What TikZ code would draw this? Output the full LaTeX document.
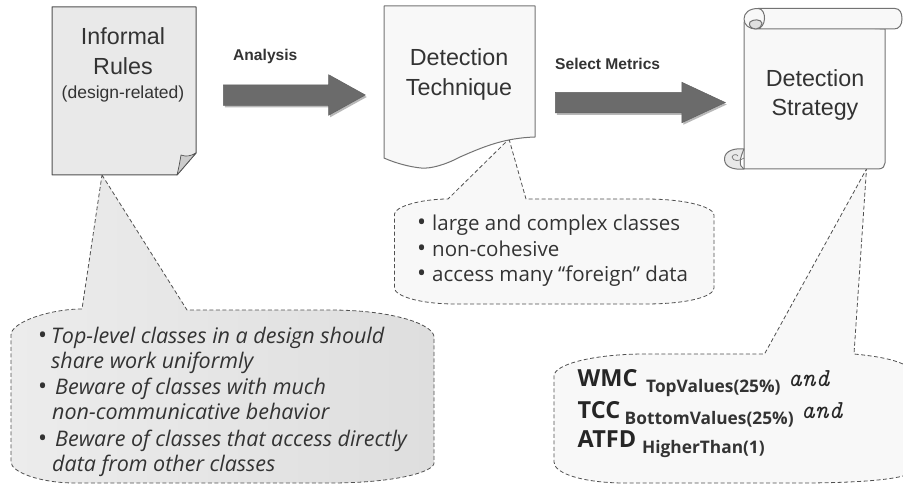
\documentclass[tikz,border=0pt]{standalone}
\usepackage{fontspec}
\setmainfont{Liberation Sans}
\newfontfamily\callfont{Open Sans}
\usetikzlibrary{shapes.arrows,shadows}
\definecolor{ink}{HTML}{333333}
\definecolor{edge}{HTML}{505050}
\definecolor{pale}{HTML}{F8F8F8}
\definecolor{mid}{HTML}{E9E9E9}
\definecolor{midleft}{HTML}{ECECEC}
\definecolor{midright}{HTML}{DEDEDE}
\tikzset{
  x=1pt,y=-1pt,
  shapeline/.style={draw=edge,line width=1pt,line join=round},
  softline/.style={draw=black!55,line width=1pt,line join=round},
  calloutline/.style={draw=edge,line width=.8pt,dash pattern=on 4pt off 2.5pt,line join=round},
  bigtext/.style={font=\fontsize{23.3}{23}\selectfont,text=ink,anchor=base,inner sep=0pt},
  smalltext/.style={font=\fontsize{17.5}{18}\selectfont,text=ink,anchor=base,inner sep=0pt},
  steplabel/.style={font=\bfseries\fontsize{15.6}{16}\selectfont,text=ink,anchor=base west,inner sep=0pt},
  noteit/.style={font=\callfont\itshape\fontsize{21.5}{22}\selectfont,text=ink,anchor=base west,inner sep=0pt},
  notert/.style={font=\callfont\fontsize{20.5}{21}\selectfont,text=ink,anchor=base west,inner sep=0pt},
  bull/.style={font=\callfont\fontsize{24}{24}\selectfont,text=ink,anchor=base west,inner sep=0pt},
  metric/.style={font=\callfont\bfseries\fontsize{23.5}{24}\selectfont,text=black!85,anchor=base west,inner sep=0pt},
  metricsub/.style={font=\callfont\bfseries\fontsize{17.3}{18}\selectfont,text=black!80,anchor=base west,inner sep=0pt},
  andword/.style={font=\ttfamily\itshape\addfontfeature{FakeBold=5}\fontsize{26}{26}\selectfont,text=black!85,anchor=base west,inner sep=0pt},
  blockarrow/.style={shape=single arrow,fill=black!58,draw=black!62,line width=.5pt,inner sep=0pt,
    drop shadow={shadow xshift=1.5pt,shadow yshift=-2pt,fill=black!35,opacity=.8},anchor=west},
}
\begin{document}
\begin{tikzpicture}
\useasboundingbox (0,0) rectangle (903,484);
% callouts
\path[left color=midleft,right color=midright,calloutline] (102,175) -- (187,310) -- (330,310) .. controls (395,310) and (434,325) .. (434,337)
  -- (434,463) .. controls (434,472) and (395,483) .. (330,483) -- (75,483)
  .. controls (40,483) and (11,472) .. (11,462) -- (11,335) .. controls (11,322) and (50,309) .. (82,309) -- cycle;
\path[fill=pale,calloutline] (509,139) -- (526,199) -- (645,199) .. controls (690,199) and (714,208) .. (714,215)
  -- (714,288) .. controls (714,296) and (690,304) .. (645,304) -- (455,304)
  .. controls (420,304) and (394.5,296) .. (394.5,288) -- (394.5,214) .. controls (394.5,207) and (420,199) .. (448,199) -- cycle;
\path[fill=pale] (866.5,169) -- (854,354) .. controls (875,356) and (892,359) .. (903.5,364) -- (903.5,476)
  .. controls (880,482) and (830,483) .. (800,483) -- (625,483) .. controls (585,483) and (554,474) .. (554,462)
  -- (554,376) .. controls (554,364) and (595,354) .. (645,354) -- (764.5,354) -- cycle;
\path[calloutline] (903,364) .. controls (892,359) and (875,356) .. (854,354) -- (866.5,169) -- (764.5,354) -- (645,354)
  .. controls (595,354) and (554,364) .. (554,376) -- (554,462) .. controls (554,474) and (585,483) .. (625,483)
  -- (800,483) .. controls (830,483) and (880,482) .. (903,476);
% informal rules document
\path[fill=mid,shapeline] (52,7) -- (196,7) -- (196,153) -- (177,175) -- (52,175) -- cycle;
\path[fill=black!20,shapeline,line width=.7pt] (177,175) .. controls (179,167) and (180,161) .. (181,155) .. controls (186,157) and (191,156) .. (196,153) -- cycle;
% detection technique document
\path[fill=pale,softline] (384,6) -- (535,6) -- (535,137) .. controls (505,138) and (485,146) .. (460,157)
  .. controls (445,165) and (430,169) .. (421,168) .. controls (410,167) and (395,163) .. (384,158) -- cycle;
% detection strategy scroll
\path[fill=pale,softline] (744,22) -- (744,169) -- (878,169) .. controls (883,169) and (885,166) .. (885,163) -- (885,29) -- cycle;
\path[fill=pale,softline] (758,8.5) -- (895,8.5) .. controls (900,8.5) and (902,13) .. (902,19) .. controls (902,25) and (899,29) .. (894,29) -- (756,29)
  .. controls (749,29) and (744,25) .. (744,19) .. controls (744,13) and (749,8.5) .. (758,8.5) .. controls (767,8.5) and (767,29) .. (756,29);
\path[fill=black!12,softline] (756,29) .. controls (751,29) and (748,25) .. (750,22) .. controls (753,19) and (761,19) .. (762,23) .. controls (761,27) and (759,29) .. (756,29) -- cycle;
\path[fill=mid,softline] (744,149) .. controls (736,148) and (724.5,150) .. (724.5,159) .. controls (724.5,167) and (733,170) .. (744,169)
  .. controls (738,166) and (740,158) .. (744,149) -- cycle;
\path[softline,line width=.7pt] (744,158) .. controls (740,161) and (733,162) .. (732,157) .. controls (733,154) and (737,154) .. (738,156);
% arrows
\node[blockarrow,single arrow head extend=10pt,single arrow tip angle=58,minimum height=142pt] (analysisarrow) at (223,95) {\rule{0pt}{20pt}};
\node[blockarrow,single arrow head extend=10pt,single arrow tip angle=50,minimum height=170pt] (metricsarrow) at (555,102.5) {\rule{0pt}{20pt}};
% shape text
\node[bigtext] (t1) at (123,45) {Informal};
\node[bigtext] (t2) at (123,75) {Rules};
\node[smalltext] (t3) at (123,99) {(design-related)};
\node[bigtext] (t4) at (459,66) {Detection};
\node[bigtext] (t5) at (459,96) {Technique};
\node[bigtext] (t6) at (815,87) {Detection};
\node[bigtext] (t7) at (815,116) {Strategy};
\node[steplabel] (l1) at (233,61) {Analysis};
\node[steplabel] (l2) at (555,70) {Select Metrics};
% callout 1
\node[bull] (b1) at (38,343) {•};
\node[noteit] (n1) at (51,343) {Top-level classes in a design should};
\node[noteit] (n2) at (51,368) {share work uniformly};
\node[bull] (b2) at (38,394) {•};
\node[noteit] (n3) at (55,394) {Beware of classes with much};
\node[noteit] (n4) at (52,419) {non-communicative behavior};
\node[bull] (b3) at (38,446) {•};
\node[noteit] (n5) at (55,446) {Beware of classes that access directly};
\node[noteit] (n6) at (52,471) {data from other classes};
% callout 2
\node[bull] (b4) at (417,230.5) {•};
\node[notert] (m1) at (432,230.5) {large and complex classes};
\node[bull] (b5) at (417,256) {•};
\node[notert] (m2) at (432,256) {non-cohesive};
\node[bull] (b6) at (417,281.5) {•};
\node[notert] (m3) at (432,281.5) {access many “foreign” data};
% callout 3
\node[metric] (w1) at (577.5,386) {WMC};
\node[metricsub] (w2) at (646,392) {TopValues(25\%)};
\node[andword] (w3) at (788,386) {and};
\node[metric] (c1) at (577.5,418) {TCC};
\node[metricsub] (c2) at (624.5,424.5) {BottomValues(25\%)};
\node[andword] (c3) at (801,418) {and};
\node[metric] (a1) at (577.5,447) {ATFD};
\node[metricsub] (a2) at (642,453) {HigherThan(1)};
\end{tikzpicture}
\end{document}
